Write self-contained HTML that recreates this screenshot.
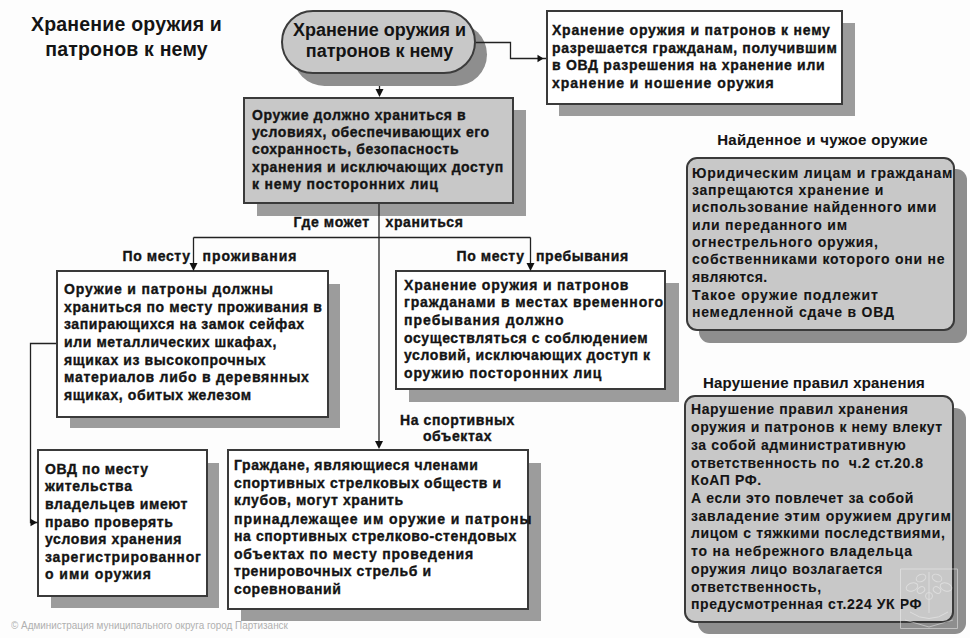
<!DOCTYPE html>
<html><head><meta charset="utf-8">
<style>
html,body{margin:0;padding:0;background:#fdfdfd;}
body{width:970px;height:638px;position:relative;overflow:hidden;font-family:"Liberation Sans",sans-serif;color:#141414;}
.t{position:absolute;font-weight:bold;font-size:14px;letter-spacing:0.6px;white-space:pre;line-height:17.6px;-webkit-text-stroke:0.35px #141414;}
.box{position:absolute;box-sizing:border-box;border:2px solid #3a3a3a;background:#fff;}
.g{background:#c8c8c8;}
.sh{position:absolute;background:#9c9c9c;}
svg{position:absolute;left:0;top:0;}
</style></head><body>

<!-- Left title -->
<div class="t" style="left:26px;top:11.90px;width:201px;text-align:center;font-size:19.5px;line-height:25.3px;letter-spacing:0.2px;-webkit-text-stroke:0px;">Хранение оружия и
патронов к нему</div>

<!-- line under stadium shadow -->
<svg width="970" height="638"><path d="M379.5 74 V90" stroke="#222" stroke-width="1.3" fill="none"/></svg>

<!-- Stadium -->
<div class="sh" style="left:293px;top:23px;width:194px;height:63px;border-radius:32px;background:#8e8e8e;"></div>
<div class="box g" style="left:281px;top:10px;width:195px;height:64px;border-radius:32px;border-color:#3c3c3c;"></div>
<div class="t" style="left:281px;top:20.00px;width:197px;text-align:center;font-size:18px;line-height:21.1px;letter-spacing:0px;-webkit-text-stroke:0px;">Хранение оружия и
патронов к нему</div>

<!-- Top right box -->
<div class="sh" style="left:559px;top:23px;width:296px;height:93px;"></div>
<div class="box" style="left:546px;top:10px;width:297px;height:95px;"></div>
<div class="t" style="left:552px;top:22.20px;"><span style="letter-spacing:0.77px">Хранение оружия и патронов к нему
</span>разрешается гражданам, получившим
<span style="letter-spacing:0.70px">в ОВД разрешения на хранение или</span>
<span style="letter-spacing:0.97px">хранение и ношение оружия</span></div>

<!-- Gray box -->
<div class="sh" style="left:257px;top:110px;width:269px;height:106px;"></div>
<div class="box g" style="left:243px;top:97px;width:271px;height:107px;"></div>
<div class="t" style="left:252px;top:106.60px;line-height:17.4px;">Оружие должно храниться в
условиях, обеспечивающих его
сохранность, безопасность
хранения и исключающих доступ
<span style="letter-spacing:0.80px">к нему посторонних лиц</span></div>

<!-- labels -->
<div class="t" style="left:293.5px;top:213.60px;">Где может</div>
<div class="t" style="left:385.5px;top:213.60px;">храниться</div>
<div class="t" style="left:122.5px;top:247.60px;">По месту</div>
<div class="t" style="left:202.5px;top:247.60px;letter-spacing:0.95px;">проживания</div>
<div class="t" style="left:456.5px;top:248.00px;">По месту</div>
<div class="t" style="left:536px;top:248.00px;">пребывания</div>

<!-- Left box -->
<div class="sh" style="left:70px;top:284px;width:270px;height:144px;"></div>
<div class="box" style="left:56px;top:270px;width:273px;height:148px;"></div>
<div class="t" style="left:64px;top:280.80px;line-height:17.73px;"><span style="letter-spacing:0.83px">Оружие и патроны должны</span>
храниться по месту проживания в
запирающихся на замок сейфах
или металлических шкафах,
ящиках из высокопрочных
<span style="letter-spacing:0.75px">материалов либо в деревянных</span>
ящиках, обитых железом</div>

<!-- Middle right box -->
<div class="sh" style="left:409px;top:283px;width:270px;height:119px;"></div>
<div class="box" style="left:395px;top:270px;width:271px;height:120px;"></div>
<div class="t" style="left:404px;top:276.80px;line-height:17.66px;"><span style="letter-spacing:0.80px">Хранение оружия и патронов
</span><span style="letter-spacing:0.83px">гражданами в местах временного</span>
<span style="letter-spacing:1.01px">пребывания должно</span>
осуществляться с соблюдением
условий, исключающих доступ к
<span style="letter-spacing:0.85px">оружию посторонних лиц</span></div>

<!-- Lower left box -->
<div class="sh" style="left:51px;top:463px;width:168px;height:145px;"></div>
<div class="box" style="left:37px;top:449px;width:171px;height:148px;"></div>
<div class="t" style="left:45px;top:460.90px;line-height:17.55px;">ОВД по месту
жительства
владельцев имеют
право проверять
условия хранения
<span style="letter-spacing:0.83px">зарегистрированног</span>
<span style="letter-spacing:0.96px">о ими оружия</span></div>

<!-- Label sports -->
<div class="t" style="left:380px;top:412.00px;width:155px;text-align:center;line-height:16.2px;">На спортивных
объектах</div>

<!-- Lower middle box -->
<div class="sh" style="left:241px;top:463px;width:300px;height:158px;"></div>
<div class="box" style="left:227px;top:449px;width:302px;height:161px;"></div>
<div class="t" style="left:234px;top:457.30px;line-height:17.4px;">Граждане, являющиеся членами
спортивных стрелковых обществ и
клубов, могут хранить<span style="display:block;height:1.4px"></span><span style="letter-spacing:0.94px">принадлежащее им оружие и патроны</span>
на спортивных стрелково-стендовых
<span style="letter-spacing:0.80px">объектах по месту проведения</span>
тренировочных стрельб и
соревнований</div>

<!-- Right section 1 -->
<div class="t" style="left:700px;top:131.40px;width:245px;text-align:center;font-size:15px;letter-spacing:0.3px;-webkit-text-stroke:0.1px #141414;">Найденное и чужое оружие</div>
<div class="sh" style="left:699px;top:169px;width:268px;height:174px;border-radius:11px;background:#8e8e8e;"></div>
<div class="box g" style="left:686px;top:157px;width:269px;height:174px;border-radius:11px;"></div>
<div class="t" style="left:692px;top:164.70px;line-height:17.35px;letter-spacing:0.78px;-webkit-text-stroke:0.1px #141414;">Юридическим лицам и гражданам
запрещаются хранение и
использование найденного ими
или переданного им
огнестрельного оружия,
собственниками которого они не
<span style="letter-spacing:0.42px">являются.</span><span style="display:block;height:1px"></span><span style="letter-spacing:1.02px">Такое оружие подлежит</span>
немедленной сдаче в ОВД</div>

<!-- Right section 2 -->
<div class="t" style="left:690px;top:374.30px;width:248px;text-align:center;font-size:15px;letter-spacing:0.2px;-webkit-text-stroke:0.1px #141414;">Нарушение правил хранения</div>
<div class="sh" style="left:698px;top:408px;width:268px;height:226px;border-radius:11px;background:#8e8e8e;"></div>
<div class="box g" style="left:684px;top:395px;width:270px;height:228px;border-radius:11px;"></div>
<div class="t" style="left:691px;top:401.45px;line-height:17.72px;-webkit-text-stroke:0.1px #141414;">Нарушение правил хранения
оружия и патронов к нему влекут
за собой административную
ответственность по  ч.2 ст.20.8
КоАП РФ.
А если это повлечет за собой
<span style="letter-spacing:0.77px">завладение этим оружием другим</span>
лицом с тяжкими последствиями,
<span style="letter-spacing:0.80px">то на небрежного владельца</span>
оружия лицо возлагается
ответственность,
предусмотренная ст.224 УК РФ</div>

<!-- connectors -->
<svg width="970" height="638">
<g stroke="#222" stroke-width="1.3" fill="none">
<path d="M476 42.5 H510.5 V58.5 H546"/>
<path d="M379 204 V442"/>
<path d="M193.5 237.5 H530.5"/>
<path d="M193.5 237.5 V263"/>
<path d="M530.5 237.5 V263"/>
<path d="M56 343.5 H30.5 V522.5 H38"/>
</g>
<g fill="#111">
<path d="M543.5 58.5 L537.5 54.8 L537.5 62.2 Z"/>
<path d="M379.5 97 L375.5 89 L383.5 89 Z"/>
<path d="M379 449 L375 441 L383 441 Z"/>
<path d="M193.5 271 L189.5 263 L197.5 263 Z"/>
<path d="M530.5 271 L526.5 263 L534.5 263 Z"/>
<path d="M37 522.5 L30.5 518.8 L30.5 526.2 Z"/>
</g>
</svg>

<!-- watermark -->
<svg width="970" height="638" style="opacity:0.5">
<g stroke="#f2f2f2" stroke-width="1" fill="none">
<path d="M900.5 569 H957.5 V628.5 H900.5 Z"/>
<path d="M929 572 V613"/>
<circle cx="929" cy="596" r="3.5"/>
<ellipse cx="921" cy="578" rx="5" ry="3.5" transform="rotate(-25 921 578)"/>
<ellipse cx="937" cy="578" rx="5" ry="3.5" transform="rotate(25 937 578)"/>
<ellipse cx="912" cy="587" rx="6" ry="4" transform="rotate(-20 912 587)"/>
<ellipse cx="946" cy="587" rx="6" ry="4" transform="rotate(20 946 587)"/>
<ellipse cx="921" cy="590" rx="4" ry="3" transform="rotate(-35 921 590)"/>
<ellipse cx="937" cy="590" rx="4" ry="3" transform="rotate(35 937 590)"/>
<path d="M905 620 L929 627 L953 620"/>
<path d="M910 612 Q929 625 948 612"/>
</g>
</svg>

<!-- footer -->
<div style="position:absolute;left:11px;top:619px;font-size:11px;line-height:12px;color:#b0b0b0;white-space:pre;transform:scaleX(0.9);transform-origin:0 0;">© Администрация муниципального округа город Партизанск</div>

</body></html>
